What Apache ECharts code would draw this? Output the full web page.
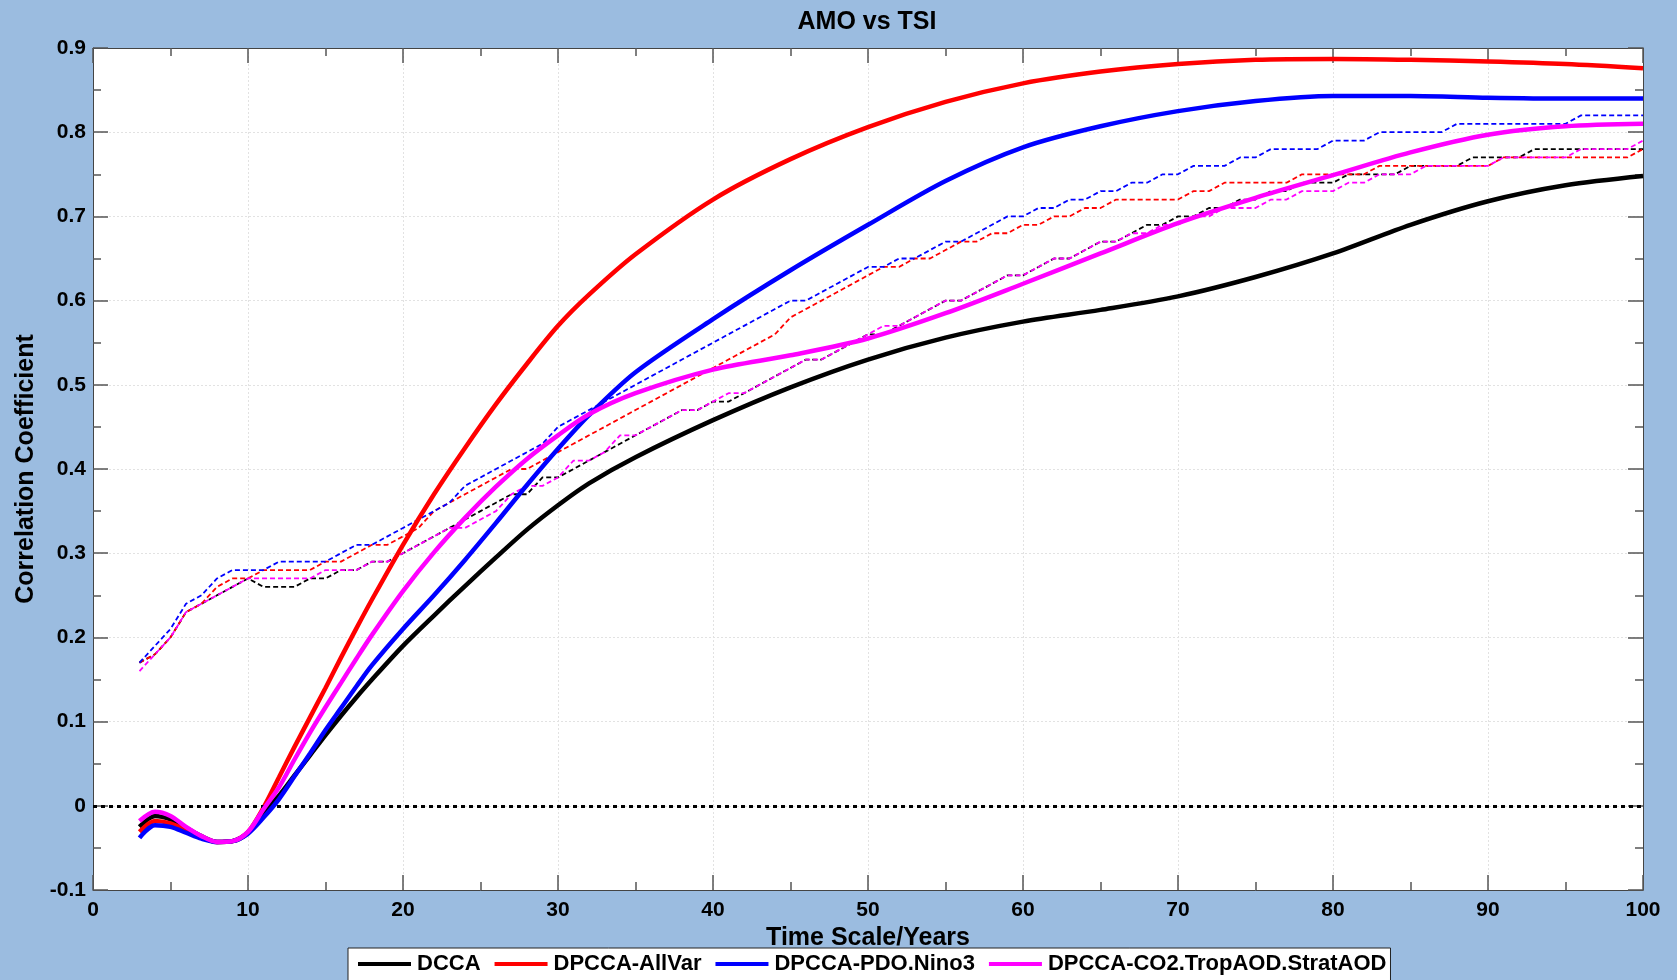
<!DOCTYPE html>
<html>
<head>
<meta charset="utf-8">
<script src="https://cdn.jsdelivr.net/npm/echarts/dist/echarts.min.js"></script>
<style>
html,body{margin:0;padding:0;background:#9bbce0;}
#chart{width:1677px;height:980px;}
</style>
</head>
<body>
<div id="chart"></div>
<script>
// ---------- DATA ----------
const seriesNames = ['DCCA', 'DPCCA-AllVar', 'DPCCA-PDO.Nino3', 'DPCCA-CO2.TropAOD.StratAOD'];
const seriesColors = ['#000000', '#ff0000', '#0000ff', '#ff00ff'];

// x positions (years) of the solid curves
const xSolid = [3,4,5,6,7,8,9,10,11,12,13,14,15,16,17,18,20,22,24,26,28,30,32,35,40,45,50,55,60,65,70,75,80,85,90,95,100];

const dccaSolid = [-0.025,-0.012,-0.016,-0.026,-0.036,-0.043,-0.042,-0.032,-0.008,0.012,0.036,0.060,0.084,0.107,0.129,0.150,0.190,0.226,0.261,0.295,0.328,0.357,0.383,0.414,0.458,0.497,0.530,0.556,0.575,0.589,0.605,0.628,0.656,0.690,0.718,0.737,0.748];
const allVarSolid = [-0.031,-0.018,-0.021,-0.029,-0.037,-0.043,-0.042,-0.031,-0.002,0.034,0.070,0.105,0.140,0.176,0.211,0.245,0.310,0.370,0.425,0.477,0.525,0.570,0.607,0.655,0.720,0.768,0.806,0.836,0.858,0.872,0.881,0.886,0.887,0.886,0.884,0.881,0.876];
const pdoSolid = [-0.038,-0.023,-0.025,-0.032,-0.039,-0.043,-0.042,-0.033,-0.014,0.008,0.035,0.062,0.090,0.116,0.142,0.167,0.210,0.250,0.292,0.336,0.381,0.424,0.464,0.515,0.578,0.636,0.690,0.742,0.782,0.807,0.825,0.837,0.843,0.843,0.841,0.840,0.840];
const co2Solid = [-0.018,-0.007,-0.012,-0.025,-0.036,-0.043,-0.042,-0.031,-0.004,0.022,0.055,0.087,0.117,0.146,0.175,0.203,0.255,0.301,0.342,0.379,0.412,0.440,0.465,0.490,0.518,0.535,0.555,0.585,0.620,0.656,0.692,0.722,0.749,0.776,0.797,0.807,0.810];

// dashed curves: one value per year, from year 3 to year 100
const dashStartYear = 3;
const dccaDashed = [0.17,0.18,0.20,0.23,0.24,0.25,0.26,0.27,0.26,0.26,0.26,0.27,0.27,0.28,0.28,0.29,0.29,0.30,0.31,0.32,0.33,0.34,0.35,0.36,0.37,0.37,0.39,
  0.39,0.40,0.41,0.42,0.43,0.44,0.45,0.46,0.47,0.47,0.48,0.48,0.49,0.50,0.51,0.52,0.53,0.53,0.54,0.55,0.56,0.56,0.57,0.58,0.59,0.60,
  0.60,0.61,0.62,0.63,0.63,0.64,0.65,0.65,0.66,0.67,0.67,0.68,0.69,0.69,0.70,0.70,0.71,0.71,0.72,0.72,0.73,0.73,0.74,0.74,0.74,0.75,0.75,
  0.75,0.75,0.76,0.76,0.76,0.76,0.77,0.77,0.77,0.77,0.78,0.78,0.78,0.78,0.78,0.78,0.78,0.78];
const allVarDashed = [0.17,0.18,0.20,0.23,0.24,0.26,0.27,0.27,0.28,0.28,0.28,0.28,0.29,0.29,0.30,0.31,0.31,0.32,0.33,0.35,0.36,0.37,0.38,0.39,0.40,0.40,0.41,
  0.42,0.43,0.44,0.45,0.46,0.47,0.48,0.49,0.50,0.51,0.52,0.53,0.54,0.55,0.56,0.58,0.59,0.60,0.61,0.62,0.63,0.64,0.64,0.65,0.65,0.66,
  0.67,0.67,0.68,0.68,0.69,0.69,0.70,0.70,0.71,0.71,0.72,0.72,0.72,0.72,0.72,0.73,0.73,0.74,0.74,0.74,0.74,0.74,0.75,0.75,0.75,0.75,0.75,
  0.76,0.76,0.76,0.76,0.76,0.76,0.76,0.76,0.77,0.77,0.77,0.77,0.77,0.77,0.77,0.77,0.77,0.78];
const pdoDashed = [0.17,0.19,0.21,0.24,0.25,0.27,0.28,0.28,0.28,0.29,0.29,0.29,0.29,0.30,0.31,0.31,0.32,0.33,0.34,0.35,0.36,0.38,0.39,0.40,0.41,0.42,0.43,
  0.45,0.46,0.47,0.48,0.49,0.50,0.51,0.52,0.53,0.54,0.55,0.56,0.57,0.58,0.59,0.60,0.60,0.61,0.62,0.63,0.64,0.64,0.65,0.65,0.66,0.67,
  0.67,0.68,0.69,0.70,0.70,0.71,0.71,0.72,0.72,0.73,0.73,0.74,0.74,0.75,0.75,0.76,0.76,0.76,0.77,0.77,0.78,0.78,0.78,0.78,0.79,0.79,0.79,
  0.80,0.80,0.80,0.80,0.80,0.81,0.81,0.81,0.81,0.81,0.81,0.81,0.81,0.82,0.82,0.82,0.82,0.82];
const co2Dashed = [0.16,0.18,0.20,0.23,0.24,0.25,0.26,0.27,0.27,0.27,0.27,0.27,0.28,0.28,0.28,0.29,0.29,0.30,0.31,0.32,0.33,0.33,0.34,0.35,0.37,0.38,0.38,
  0.39,0.41,0.41,0.42,0.44,0.44,0.45,0.46,0.47,0.47,0.48,0.49,0.49,0.50,0.51,0.52,0.53,0.53,0.54,0.55,0.56,0.57,0.57,0.58,0.59,0.60,
  0.60,0.61,0.62,0.63,0.63,0.64,0.65,0.65,0.66,0.67,0.67,0.68,0.68,0.69,0.69,0.70,0.70,0.71,0.71,0.71,0.72,0.72,0.73,0.73,0.73,0.74,0.74,
  0.75,0.75,0.75,0.76,0.76,0.76,0.76,0.76,0.77,0.77,0.77,0.77,0.77,0.78,0.78,0.78,0.78,0.79];

const xTickValues = [0,10,20,30,40,50,60,70,80,90,100];
const yTickLabels = ['-0.1','0','0.1','0.2','0.3','0.4','0.5','0.6','0.7','0.8','0.9'];

// ---------- BUILD ----------
const FONT = '"Liberation Sans", Arial, sans-serif';
const solidSets = [dccaSolid, allVarSolid, pdoSolid, co2Solid];
const dashedSets = [dccaDashed, allVarDashed, pdoDashed, co2Dashed];

function pairs(xs, ys){ return ys.map((v,i)=>[xs[i], v]); }
function dashPairs(ys){ return ys.map((v,i)=>[dashStartYear + i, v]); }

const series = [];
dashedSets.forEach((d, i) => {
  series.push({
    name: seriesNames[i] + ' (threshold)',
    type: 'line',
    data: dashPairs(d),
    symbol: 'none',
    lineStyle: { color: seriesColors[i], width: 1.8, type: [5, 3] },
    itemStyle: { color: seriesColors[i] },
    z: 2,
    silent: true
  });
});
solidSets.forEach((d, i) => {
  const s = {
    name: seriesNames[i],
    type: 'line',
    data: pairs(xSolid, d),
    symbol: 'none',
    smooth: 0.3,
    lineStyle: { color: seriesColors[i], width: 4.5 },
    itemStyle: { color: seriesColors[i] },
    z: 3 + i
  };
  if (i === 0) {
    s.markLine = {
      silent: true,
      symbol: ['none', 'none'],
      label: { show: false },
      lineStyle: { color: '#000', width: 3, type: [4, 4] },
      data: [{ yAxis: 0 }]
    };
  }
  series.push(s);
});

const axisLineStyle = { color: '#444', width: 1 };
const labelStyle = { color: '#000', fontFamily: FONT, fontWeight: 'bold', fontSize: 21 };
const nameStyle = { color: '#000', fontFamily: FONT, fontWeight: 'bold', fontSize: 25 };

function xAxisDef(pos, main){
  return {
    type: 'value', min: 0, max: 100, interval: 10, position: pos,
    axisLine: { show: true, lineStyle: axisLineStyle, onZero: false },
    axisTick: { show: true, inside: true, length: 15, lineStyle: { color: '#555', width: 1.5 } },
    minorTick: { show: true, splitNumber: 2, length: 8, lineStyle: { color: '#555', width: 1.5 } },
    axisLabel: main ? Object.assign({ show: true, margin: 10,
      formatter: v => (xTickValues.indexOf(v) >= 0 ? String(v) : '') }, labelStyle) : { show: false },
    splitLine: main ? { show: true, lineStyle: { color: '#e2e2e2', width: 1, type: [2, 2] } } : { show: false },
    name: main ? 'Time Scale/Years' : '',
    nameLocation: 'middle', nameGap: 33,
    nameTextStyle: nameStyle
  };
}
function yAxisDef(pos, main){
  return {
    type: 'value', min: -0.1, max: 0.9, interval: 0.1, position: pos,
    axisLine: { show: true, lineStyle: axisLineStyle, onZero: false },
    axisTick: { show: true, inside: true, length: 15, lineStyle: { color: '#555', width: 1.5 } },
    minorTick: { show: true, splitNumber: 2, length: 8, lineStyle: { color: '#555', width: 1.5 } },
    axisLabel: main ? Object.assign({ show: true, margin: 7,
      formatter: v => yTickLabels[Math.round((v + 0.1) * 10)] || '' }, labelStyle) : { show: false },
    splitLine: main ? { show: true, lineStyle: { color: '#e2e2e2', width: 1, type: [2, 2] } } : { show: false },
    name: main ? 'Correlation Coefficient' : '',
    nameLocation: 'middle', nameGap: 53, nameRotate: 90,
    nameTextStyle: nameStyle
  };
}

const option = {
  animation: false,
  backgroundColor: '#9bbce0',
  textStyle: { fontFamily: FONT },
  title: {
    text: 'AMO vs TSI', left: 867, top: 10, textAlign: 'center', padding: 0,
    textStyle: { color: '#000', fontFamily: FONT, fontWeight: 'bold', fontSize: 25 }
  },
  grid: { left: 93, right: 34, top: 48, bottom: 90, show: true, backgroundColor: '#ffffff', borderWidth: 0 },
  legend: {
    data: seriesNames,
    left: 348, top: 948, orient: 'horizontal',
    icon: 'rect',
    itemWidth: 53, itemHeight: 4, itemGap: 14,
    backgroundColor: '#ffffff', borderColor: '#222', borderWidth: 1,
    padding: [5, 4, 20, 10],
    textStyle: { color: '#000', fontFamily: FONT, fontWeight: 'bold', fontSize: 22, padding: [0, 0, 0, 1] },
    selectedMode: false
  },
  xAxis: [xAxisDef('bottom', true), xAxisDef('top', false)],
  yAxis: [yAxisDef('left', true), yAxisDef('right', false)],
  series: series
};

const chart = echarts.init(document.getElementById('chart'), null, { renderer: 'canvas' });
chart.setOption(option);
</script>
</body>
</html>
